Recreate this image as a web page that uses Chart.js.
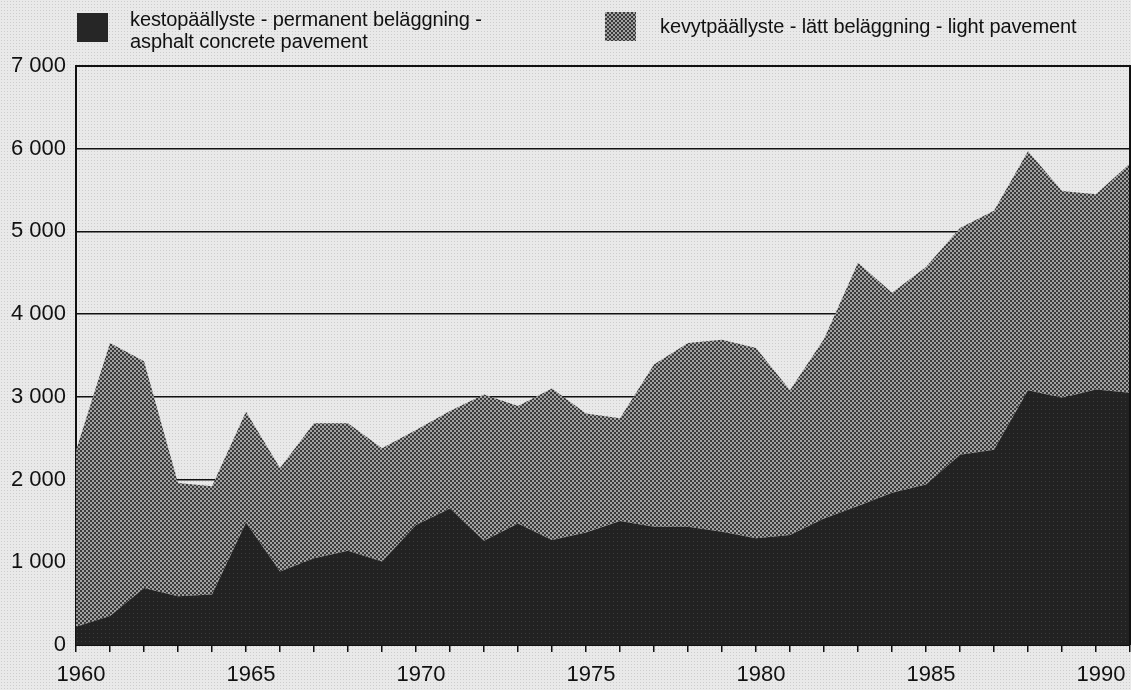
<!DOCTYPE html>
<html>
<head>
<meta charset="utf-8">
<script src="https://cdn.jsdelivr.net/npm/chart.js@4.4.1/dist/chart.umd.min.js"></script>
<style>
  html, body { margin: 0; padding: 0; }
  body {
    width: 1131px; height: 690px; overflow: hidden; position: relative;
    background-color: #e9e9e9;
    background-image: radial-gradient(#cdcdcd 0.7px, transparent 0.9px);
    background-size: 3px 3px;
    font-family: "Liberation Sans", Arial, sans-serif;
    color: #111;
  }
  #chart { position: absolute; left: 0; top: 0; }
  .swatch { position: absolute; width: 31px; height: 29px; }
  .legtext { position: absolute; font-size: 20px; line-height: 22px; white-space: nowrap; letter-spacing: -0.1px; }
</style>
</head>
<body>
<canvas id="chart" width="1131" height="690"></canvas>
<div class="swatch" id="sw1" style="left:77px; top:13px;"></div>
<div class="legtext" style="left:130px; top:8px;">kestopäällyste - permanent beläggning -<br>asphalt concrete pavement</div>
<div class="swatch" id="sw2" style="left:605px; top:12px;"></div>
<div class="legtext" style="left:660px; top:15px;">kevytpäällyste - lätt beläggning - light pavement</div>
<script>
const years = [1960, 1961, 1962, 1963, 1964, 1965, 1966, 1967, 1968, 1969,
	1970, 1971, 1972, 1973, 1974, 1975, 1976, 1977, 1978, 1979,
	1980, 1981, 1982, 1983, 1984, 1985, 1986, 1987, 1988, 1989,
	1990, 1991];

// kestopäällyste - asphalt concrete pavement (bottom layer)
const asphalt = [220, 350, 690, 590, 610, 1480, 890, 1050, 1140, 1010,
	1450, 1650, 1260, 1470, 1270, 1360, 1500, 1430, 1430, 1370,
	1290, 1330, 1530, 1680, 1840, 1940, 2300, 2360, 3080, 2990,
	3090, 3050];

// kevytpäällyste - light pavement (stacked on top)
const light = [2130, 3300, 2740, 1370, 1310, 1340, 1250, 1630, 1540, 1370,
	1150, 1180, 1770, 1420, 1830, 1440, 1240, 1960, 2220, 2320,
	2300, 1750, 2170, 2940, 2420, 2630, 2740, 2890, 2890, 2500,
	2360, 2770];

const yTicks = [0, 1000, 2000, 3000, 4000, 5000, 6000, 7000];

function makePattern(base, dot, checker) {
	const c = document.createElement("canvas");
	c.width = 4;
	c.height = 4;
	const ctx = c.getContext("2d");
	ctx.fillStyle = base;
	ctx.fillRect(0, 0, 4, 4);
	ctx.fillStyle = dot;
	if(checker) {
		ctx.fillRect(0, 0, 2, 2);
		ctx.fillRect(2, 2, 2, 2);
	} else {
		ctx.fillRect(1, 1, 1, 1);
	}
	return ctx.createPattern(c, "repeat");
}

const darkFill = makePattern("#222222", "#3c3c3c", false);
const lightFill = makePattern("#3a3a3a", "#a2a2a2", true);

document.getElementById("sw1").style.background = "#262626";
document.getElementById("sw2").style.background = "repeating-conic-gradient(#3a3a3a 0 25%, #a2a2a2 0 50%) 0 0 / 4px 4px";

function fmt(v) {
	if(v < 1000) return String(v);
	return Math.floor(v / 1000) + " " + String(v % 1000).padStart(3, "0");
}

const frame = {
	id: "frame",
	afterDatasetsDraw(chart) {
		const a = chart.chartArea;
		const ctx = chart.ctx;
		ctx.save();
		ctx.strokeStyle = "#111";
		ctx.lineWidth = 2;
		ctx.beginPath();
		ctx.moveTo(a.left, a.top);
		ctx.lineTo(a.right, a.top);
		ctx.lineTo(a.right, a.bottom);
		ctx.stroke();
		ctx.restore();
	}
};

new Chart(document.getElementById("chart"), {
	type: "line",
	data: {
		labels: years,
		datasets: [{
			label: "kestopäällyste - permanent beläggning - asphalt concrete pavement",
			data: asphalt,
			backgroundColor: darkFill,
			borderWidth: 0,
			pointRadius: 0,
			fill: "origin",
			tension: 0
		}, {
			label: "kevytpäällyste - lätt beläggning - light pavement",
			data: light,
			backgroundColor: lightFill,
			borderWidth: 0,
			pointRadius: 0,
			fill: "-1",
			tension: 0
		}]
	},
	plugins: [frame],
	options: {
		responsive: false,
		animation: false,
		layout: { padding: { top: 66, left: 0, right: 1, bottom: 0 } },
		plugins: {
			legend: { display: false },
			tooltip: { enabled: false }
		},
		scales: {
			x: {
				type: "category",
				offset: false,
				grid: { drawOnChartArea: false, drawTicks: true, tickLength: 7, color: "#111", lineWidth: 1.5 },
				border: { display: true, color: "#111", width: 2 },
				ticks: {
					autoSkip: false,
					maxRotation: 0,
					padding: 10,
					labelOffset: 5,
					color: "#111",
					font: { family: "Liberation Sans", size: 22 },
					callback: function(v, i) {
						const y = years[i];
						return y % 5 === 0 ? String(y) : "";
					}
				},
				afterFit: function(scale) {
					scale.height = 45;
					scale.paddingLeft = 0;
					scale.paddingRight = 0;
				}
			},
			y: {
				stacked: true,
				min: 0,
				max: 7000,
				afterBuildTicks: function(scale) { scale.ticks = yTicks.map(v => ({ value: v })); },
				grid: { color: "#111", lineWidth: 1.5, drawTicks: false },
				border: { display: true, color: "#111", width: 2 },
				ticks: {
					padding: 10,
					color: "#111",
					font: { family: "Liberation Sans", size: 22 },
					callback: v => fmt(v)
				},
				afterFit: function(scale) { scale.width = 76; }
			}
		}
	}
});
</script>
</body>
</html>
